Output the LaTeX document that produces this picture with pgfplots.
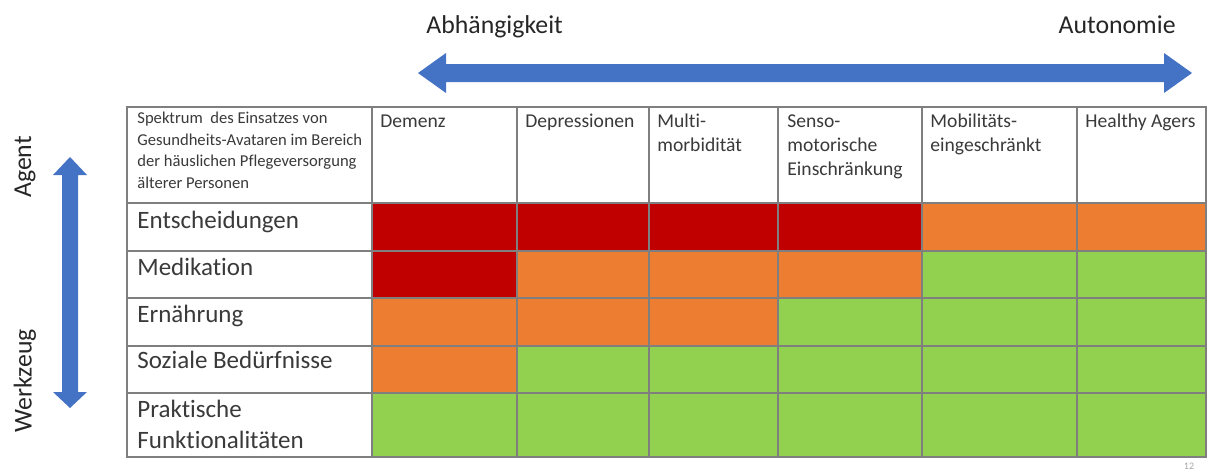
\documentclass[border=0pt]{standalone}
\usepackage{pgfplots}
\pgfplotsset{compat=1.18}
\usepackage{fontspec}
\setmainfont{Carlito}[Ligatures=NoCommon]
\definecolor{cred}{HTML}{C00000}
\definecolor{corange}{HTML}{ED7D31}
\definecolor{cgreen}{HTML}{92D050}
\definecolor{gridc}{HTML}{7F7F7F}
\definecolor{ablue}{HTML}{4472C4}
\definecolor{txt}{HTML}{3A3A3A}
\newcommand{\cell}[5]{\addplot[fill=#5,draw=gridc,line width=0.6pt] coordinates {(#1,#3) (#2,#3) (#2,#4) (#1,#4)} -- cycle;}
\begin{document}
\begin{tikzpicture}
\begin{axis}[
  at={(0,0)}, anchor=south west,
  width=604.5pt, height=236pt, scale only axis,
  xmin=0, xmax=1209, ymin=0, ymax=472, y dir=reverse,
  hide axis, clip=false, no markers,
]
% header row
\cell{127}{372}{107}{203}{white}
\cell{372}{517}{107}{203}{white}
\cell{517}{649}{107}{203}{white}
\cell{649}{778}{107}{203}{white}
\cell{778}{922}{107}{203}{white}
\cell{922}{1077}{107}{203}{white}
\cell{1077}{1206}{107}{203}{white}
% row label column
\cell{127}{372}{203}{251}{white}
\cell{127}{372}{251}{298}{white}
\cell{127}{372}{298}{346}{white}
\cell{127}{372}{346}{393}{white}
\cell{127}{372}{393}{457}{white}
% Entscheidungen
\cell{372}{517}{203}{251}{cred}
\cell{517}{649}{203}{251}{cred}
\cell{649}{778}{203}{251}{cred}
\cell{778}{922}{203}{251}{cred}
\cell{922}{1077}{203}{251}{corange}
\cell{1077}{1206}{203}{251}{corange}
% Medikation
\cell{372}{517}{251}{298}{cred}
\cell{517}{649}{251}{298}{corange}
\cell{649}{778}{251}{298}{corange}
\cell{778}{922}{251}{298}{corange}
\cell{922}{1077}{251}{298}{cgreen}
\cell{1077}{1206}{251}{298}{cgreen}
% Ernaehrung
\cell{372}{517}{298}{346}{corange}
\cell{517}{649}{298}{346}{corange}
\cell{649}{778}{298}{346}{corange}
\cell{778}{922}{298}{346}{cgreen}
\cell{922}{1077}{298}{346}{cgreen}
\cell{1077}{1206}{298}{346}{cgreen}
% Soziale Beduerfnisse
\cell{372}{517}{346}{393}{corange}
\cell{517}{649}{346}{393}{cgreen}
\cell{649}{778}{346}{393}{cgreen}
\cell{778}{922}{346}{393}{cgreen}
\cell{922}{1077}{346}{393}{cgreen}
\cell{1077}{1206}{346}{393}{cgreen}
% Praktische Funktionalitaeten
\cell{372}{517}{393}{457}{cgreen}
\cell{517}{649}{393}{457}{cgreen}
\cell{649}{778}{393}{457}{cgreen}
\cell{778}{922}{393}{457}{cgreen}
\cell{922}{1077}{393}{457}{cgreen}
\cell{1077}{1206}{393}{457}{cgreen}
% arrows
\addplot[fill=ablue,draw=none] coordinates {(418,73) (446,53) (446,64) (1164,64) (1164,53) (1192,73) (1164,93) (1164,82) (446,82) (446,93)} -- cycle;
\addplot[fill=ablue,draw=none] coordinates {(70,157) (87,175) (78,175) (78,392) (87,392) (70,408) (53,392) (62,392) (62,175) (53,175)} -- cycle;
% header texts
\begin{scope}[every node/.style={anchor=base west,inner sep=0pt,text=txt}]
\node[font=\fontsize{8.3pt}{10pt}\selectfont] at (axis cs:137,123) {Spektrum\ \ des Einsatzes von};
\node[font=\fontsize{8.3pt}{10pt}\selectfont] at (axis cs:137,145) {Gesundheits-Avataren im Bereich};
\node[font=\fontsize{8.3pt}{10pt}\selectfont] at (axis cs:137,166.5) {der häuslichen Pflegeversorgung};
\node[font=\fontsize{8.3pt}{10pt}\selectfont] at (axis cs:137,188) {älterer Personen};
\node[font=\fontsize{9.8pt}{12pt}\selectfont] at (axis cs:380,127) {Demenz};
\node[font=\fontsize{9.8pt}{12pt}\selectfont] at (axis cs:525,127) {Depressionen};
\node[font=\fontsize{9.8pt}{12pt}\selectfont] at (axis cs:657,127) {Multi-};
\node[font=\fontsize{9.8pt}{12pt}\selectfont] at (axis cs:657,151) {morbidität};
\node[font=\fontsize{9.8pt}{12pt}\selectfont] at (axis cs:787,127) {Senso-};
\node[font=\fontsize{9.8pt}{12pt}\selectfont] at (axis cs:787,151) {motorische};
\node[font=\fontsize{9.8pt}{12pt}\selectfont] at (axis cs:787,175) {Einschränkung};
\node[font=\fontsize{9.8pt}{12pt}\selectfont] at (axis cs:930,127) {Mobilitäts-};
\node[font=\fontsize{9.8pt}{12pt}\selectfont] at (axis cs:930,151) {eingeschränkt};
\node[font=\fontsize{9.8pt}{12pt}\selectfont] at (axis cs:1085,127) {Healthy Agers};
% row labels
\node[font=\fontsize{12.5pt}{15pt}\selectfont] at (axis cs:137,228) {Entscheidungen};
\node[font=\fontsize{12.5pt}{15pt}\selectfont] at (axis cs:137,275) {Medikation};
\node[font=\fontsize{12.5pt}{15pt}\selectfont] at (axis cs:137,322) {Ernährung};
\node[font=\fontsize{12.5pt}{15pt}\selectfont] at (axis cs:137,368) {Soziale Bedürfnisse};
\node[font=\fontsize{12.5pt}{15pt}\selectfont] at (axis cs:137,417) {Praktische};
\node[font=\fontsize{12.5pt}{15pt}\selectfont] at (axis cs:137,448) {Funktionalitäten};
% top labels
\node[font=\fontsize{12.9pt}{15pt}\selectfont,text=black!85] at (axis cs:426,33) {Abhängigkeit};
\node[font=\fontsize{12.9pt}{15pt}\selectfont,text=black!85,anchor=base east] at (axis cs:1176,33) {Autonomie};
\end{scope}
\node[font=\fontsize{12.9pt}{15pt}\selectfont,text=black!85,rotate=90,inner sep=0pt] at (axis cs:25,167) {Agent};
\node[font=\fontsize{12.9pt}{15pt}\selectfont,text=black!85,rotate=90,inner sep=0pt] at (axis cs:25,381) {Werkzeug};
\node[font=\fontsize{5pt}{6pt}\selectfont,text=black!35,inner sep=0pt] at (axis cs:1189,466) {12};
\end{axis}
\pgfresetboundingbox
\path (0,0) rectangle (604.5pt,236pt);
\end{tikzpicture}
\end{document}
